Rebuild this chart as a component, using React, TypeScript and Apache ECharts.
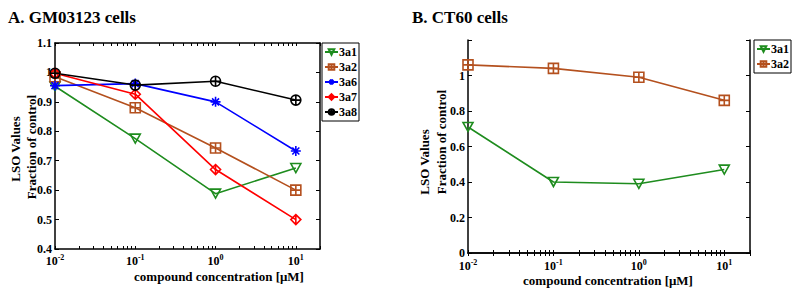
import React, { useEffect, useRef } from "react";
import * as echarts from "echarts";

// Concentrations (µM)
const concentrations = [0.01, 0.1, 1, 10];

// Panel A: GM03123 cells
const a3a1 = [0.953, 0.775, 0.588, 0.675];
const a3a2 = [0.985, 0.88, 0.743, 0.6];
const a3a6 = [0.955, 0.962, 0.9, 0.733];
const a3a7 = [0.997, 0.926, 0.67, 0.5];
const a3a8 = [0.997, 0.957, 0.97, 0.906];

// Panel B: CT60 cells
const b3a1 = [0.71, 0.4, 0.39, 0.47];
const b3a2 = [1.06, 1.04, 0.99, 0.86];

const majorTicks = [0.01, 0.1, 1, 10];
const minorMultipliers = [2, 3, 4, 5, 6, 7, 8, 9];

const FONT = '"Liberation Serif", "Times New Roman", serif';
const GREEN = "#1e8c1e";
const BROWN = "#b4501e";
const BLUE = "#0000ff";
const RED = "#ff0000";
const BLACK = "#000000";

const SYM = {
  triDown: "path://M0,0L10,0L5,9Z",
  squarePlus: "path://M0,0H10V10H0ZM5,0V10M0,5H10",
  star: "path://M5,0V10M0,5H10M1.5,1.5L8.5,8.5M8.5,1.5L1.5,8.5",
  diamond: "path://M5,0L10,5L5,10L0,5ZM5,0V10",
  circlePlus: "path://M10,5A5,5,0,1,1,0,5A5,5,0,1,1,10,5ZM5,0V10M0,5H10",
};

function allTicks() {
  const out: number[] = [];
  for (const m of majorTicks) {
    out.push(m);
    for (const k of minorMultipliers) {
      const v = +(k * m).toPrecision(3);
      if (v <= 20) out.push(v);
    }
  }
  return out;
}

export default function App() {
  const ref = useRef<HTMLDivElement>(null);
  useEffect(() => {
    if (!ref.current) return;
    const chart = echarts.init(ref.current, undefined, { renderer: "svg" });
    const ticks = allTicks();

    const pairs = (ys: number[]) => concentrations.map((c, i) => [c, ys[i]]);

    const mkSeries = (
      name: string,
      ys: number[],
      color: string,
      symbol: string,
      xi: number,
      yi: number
    ) => ({
      name,
      type: "line",
      xAxisIndex: xi,
      yAxisIndex: yi,
      data: pairs(ys),
      symbol,
      symbolSize: 10,
      symbolKeepAspect: true,
      lineStyle: { color, width: 1.6 },
      itemStyle: { color: "rgba(255,255,255,0)", borderColor: color, borderWidth: 1.6 },
      emphasis: { disabled: true },
    });

    const labelFmt = (v: number) => {
      const e = Math.round(Math.log10(v));
      return "{b|10}{s|" + e + "}";
    };

    const xMain = (gi: number, margin: number) => ({
      type: "log",
      logBase: 10,
      gridIndex: gi,
      position: "bottom",
      min: 0.01,
      max: 20,
      axisLine: { show: true, lineStyle: { color: BLACK, width: 1.5 } },
      axisTick: { show: true, inside: true, length: 3, customValues: ticks, lineStyle: { color: BLACK, width: 1 } },
      splitLine: { show: false },
      minorTick: { show: false },
      axisLabel: {
        show: true,
        customValues: majorTicks,
        formatter: labelFmt,
        margin,
        rich: {
          b: { fontFamily: FONT, fontWeight: "bold", fontSize: 12, color: BLACK },
          s: { fontFamily: FONT, fontWeight: "bold", fontSize: 8, color: BLACK, padding: [0, 0, 7, 0] },
        },
      },
    });
    const xTop = (gi: number) => ({
      type: "log",
      logBase: 10,
      gridIndex: gi,
      position: "top",
      min: 0.01,
      max: 20,
      axisLine: { show: true, lineStyle: { color: BLACK, width: 1.5 } },
      axisTick: { show: true, inside: true, length: 3, customValues: ticks, lineStyle: { color: BLACK, width: 1 } },
      splitLine: { show: false },
      axisLabel: { show: false },
    });
    const yAx = (gi: number, min: number, max: number, interval: number, pos: string, labels: boolean, hideAbove: number) => ({
      type: "value",
      gridIndex: gi,
      position: pos,
      min,
      max,
      interval,
      axisLine: { show: true, lineStyle: { color: BLACK, width: 1.5 } },
      axisTick: { show: true, inside: true, length: 4, lineStyle: { color: BLACK, width: 1 } },
      splitLine: { show: false },
      axisLabel: {
        show: labels,
        margin: 3,
        fontFamily: FONT,
        fontWeight: "bold",
        fontSize: 12,
        color: BLACK,
        formatter: (v: number) => (v > hideAbove ? "" : String(+v.toFixed(1))),
      },
    });

    const txt = (text: string, x: number, y: number, size: number, rotate = 0, align = "center") => ({
      type: "text",
      x,
      y,
      rotation: rotate,
      silent: true,
      style: {
        text,
        font: `bold ${size}px ${FONT}`,
        fill: BLACK,
        textAlign: align,
        align,
        textVerticalAlign: "middle",
        verticalAlign: "middle",
      },
    });

    const legendBase = {
      orient: "vertical",
      padding: [3, 2, 3, 2],
      itemWidth: 13,
      itemHeight: 7,
      itemGap: 3,
      borderColor: BLACK,
      borderWidth: 1,
      backgroundColor: "#fff",
      textStyle: { fontFamily: FONT, fontWeight: "bold", fontSize: 12, color: BLACK, padding: [0, 0, 0, -4] },
      selectedMode: false,
    };

    chart.setOption({
      animation: false,
      backgroundColor: "#ffffff",
      grid: [
        { left: 55, top: 43, width: 265, height: 206, containLabel: false },
        { left: 468, top: 40, width: 282, height: 213, containLabel: false },
      ],
      xAxis: [xMain(0, 4), xTop(0), xMain(1, 5), xTop(1)],
      yAxis: [
        yAx(0, 0.4, 1.1, 0.1, "left", true, 2),
        yAx(0, 0.4, 1.1, 0.1, "right", false, 2),
        yAx(1, 0, 1.2, 0.2, "left", true, 1.1),
        yAx(1, 0, 1.2, 0.2, "right", false, 1.1),
      ],
      legend: [
        {
          ...legendBase,
          left: 322,
          top: 43,
          data: ["3a1", "3a2", "3a6", "3a7", "3a8"].map((n) => ({ name: n })),
        },
        {
          ...legendBase,
          left: 754,
          top: 40,
          data: [{ name: "3a1 " }, { name: "3a2 " }],
          formatter: (n: string) => n.trim(),
        },
      ],
      series: [
        mkSeries("3a1", a3a1, GREEN, SYM.triDown, 0, 0),
        mkSeries("3a2", a3a2, BROWN, SYM.squarePlus, 0, 0),
        mkSeries("3a6", a3a6, BLUE, SYM.star, 0, 0),
        mkSeries("3a7", a3a7, RED, SYM.diamond, 0, 0),
        mkSeries("3a8", a3a8, BLACK, SYM.circlePlus, 0, 0),
        mkSeries("3a1 ", b3a1, GREEN, SYM.triDown, 2, 2),
        mkSeries("3a2 ", b3a2, BROWN, SYM.squarePlus, 2, 2),
      ],
      graphic: [
        txt("A. GM03123 cells", 8, 17, 17, 0, "left"),
        txt("B. CT60 cells", 412, 17, 17, 0, "left"),
        txt("compound concentration [\u03bcM]", 219, 276, 13),
        txt("compound concentration [\u03bcM]", 608, 280, 13),
        txt("LSO Values", 15, 149, 13, Math.PI / 2),
        txt("Fraction of control", 31, 147, 13, Math.PI / 2),
        txt("LSO Values", 424, 162, 13, Math.PI / 2),
        txt("Fraction of control", 441, 142, 13, Math.PI / 2),
      ],
    });
    return () => chart.dispose();
  }, []);
  return (
    <div
      ref={ref}
      style={{ position: "fixed", left: 0, top: 0, width: 800, height: 294, background: "#fff" }}
    />
  );
}
